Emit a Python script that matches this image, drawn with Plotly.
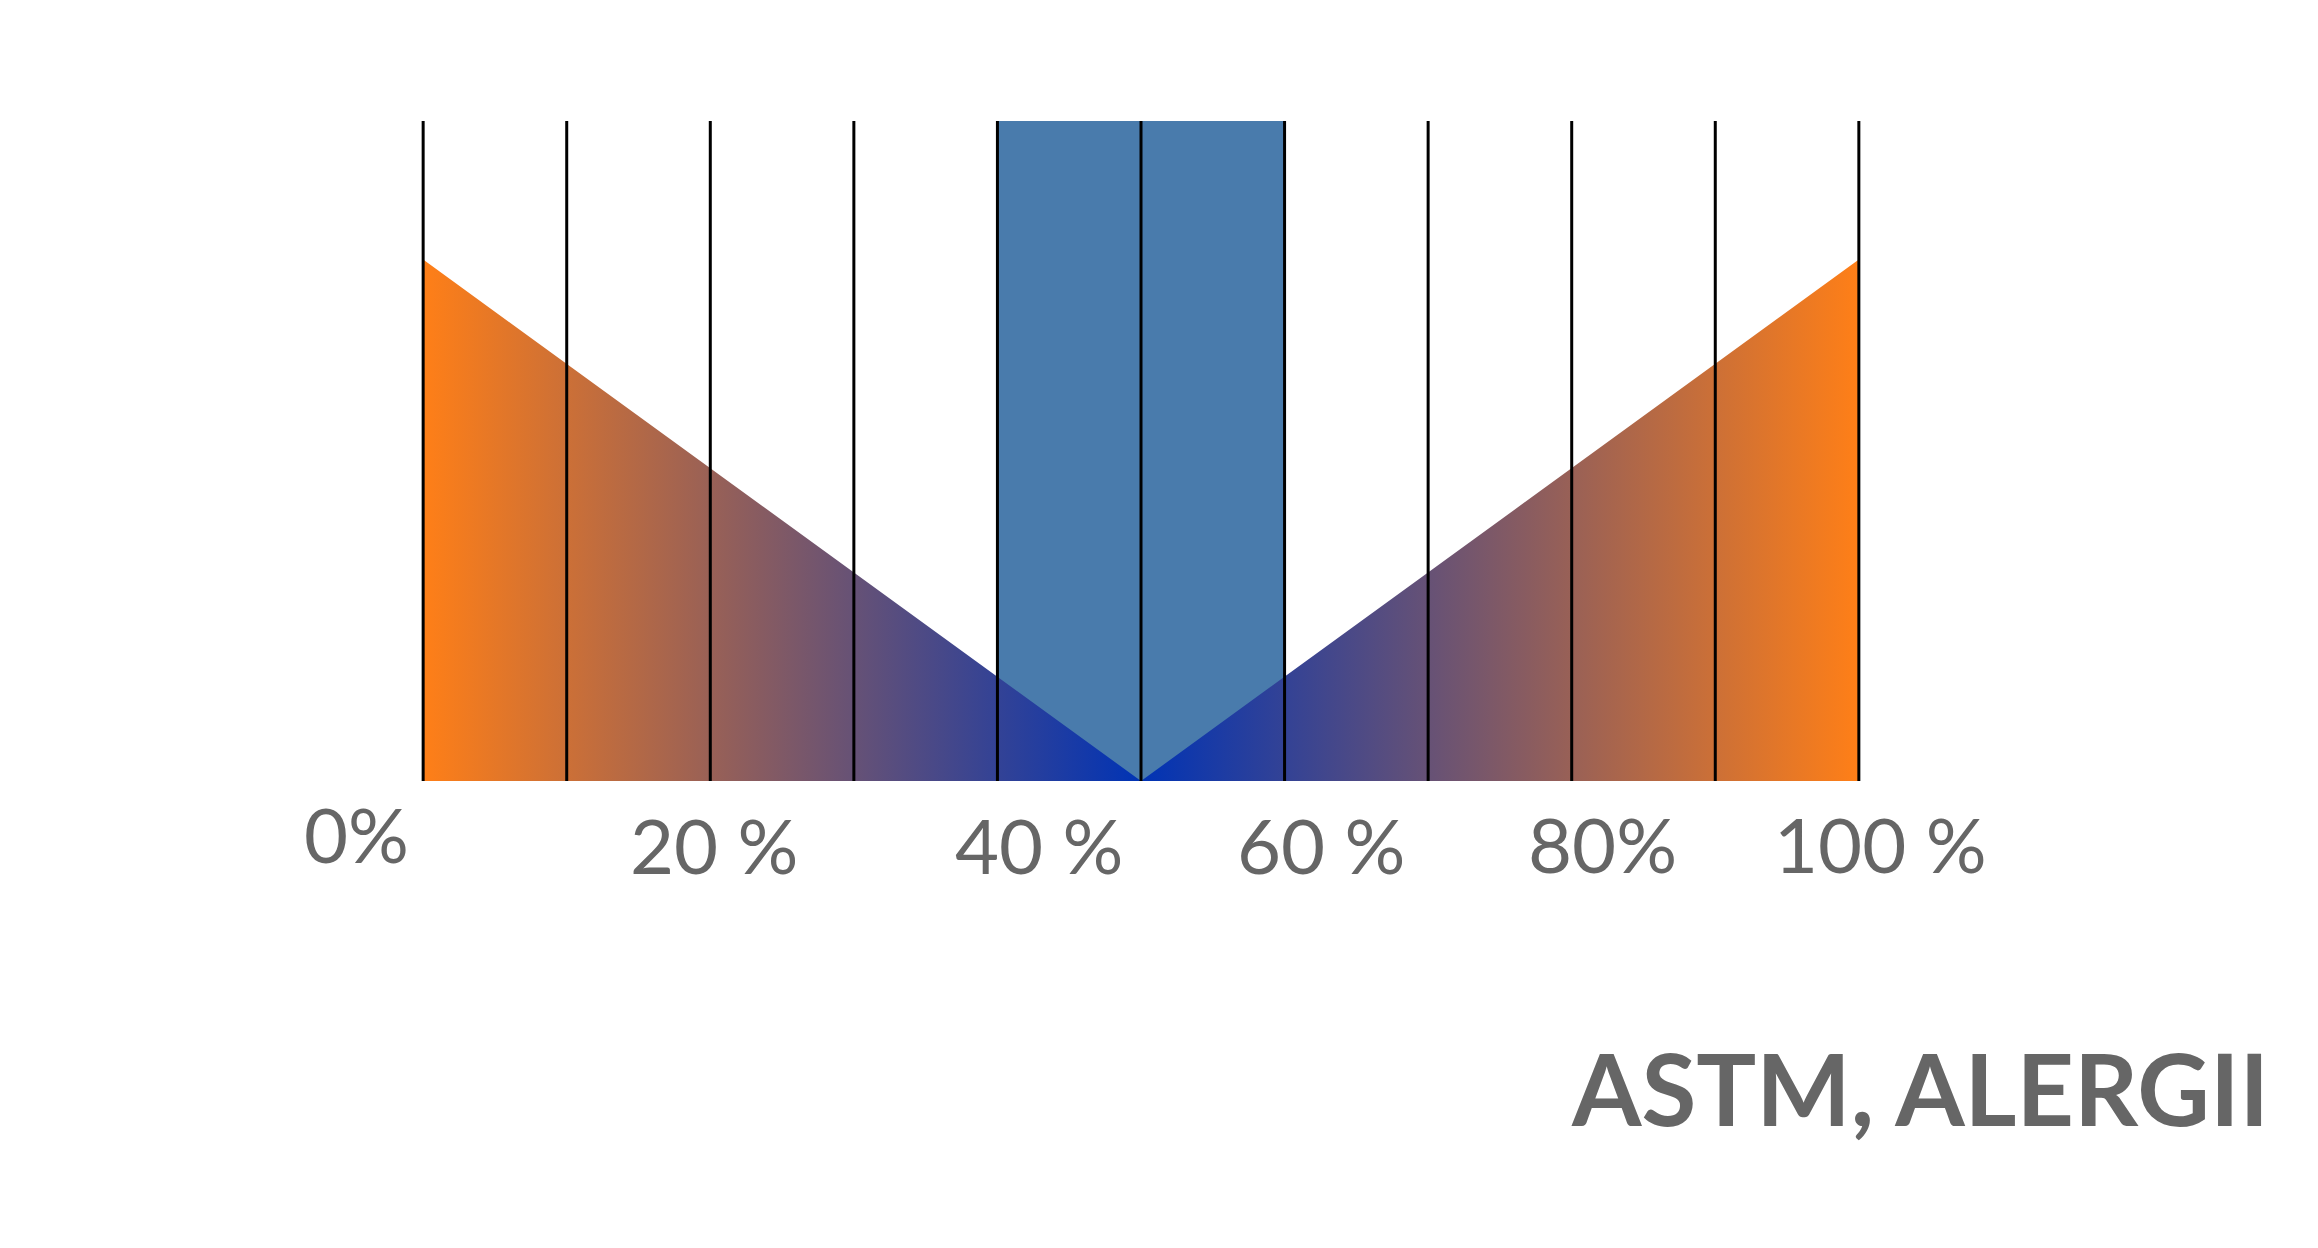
"""Allergy / asthma percentage scale chart."""

import plotly.graph_objects as go

# Data
grid_positions = [0, 10, 20, 30, 40, 50, 60, 70, 80, 90, 100]
v_x = [0, 50, 100]
v_y = [79, 0, 79]
band_center = [50]
band_width = [20]
band_height = [100]
tick_vals = [0, 20, 40, 60, 80, 100]
tick_text = ["0%", "20 %", "40 %", "60 %", "80%", "100 %"]
title_text = "ASTM, ALERGII"

# Label nudges (px), to mimic the hand-laid labels of the original
label_xshift = [-67, 4, 42, 37, 31, 22]
label_yshift = [-52, -63, -63, -63, -62, -62]

ORANGE = "#ff7f17"
BLUE = "#0033b5"
BAND = "#497bac"
GREY = "#666666"

fig = go.Figure()

# Blue band in the middle
fig.add_trace(go.Bar(
    x=band_center,
    y=band_height,
    width=band_width,
    marker={"color": BAND, "line": {"width": 0}},
    hoverinfo="skip",
    showlegend=False
))

# Gradient V shape
fig.add_trace(go.Scatter(
    x=v_x,
    y=v_y,
    mode="lines",
    line={"width": 0},
    fill="tozeroy",
    fillgradient={
        "type": "horizontal",
        "colorscale": [[0, ORANGE], [0.5, BLUE], [1, ORANGE]]
    },
    hoverinfo="skip",
    showlegend=False
))

# Vertical lines
line_x = []
line_y = []
for gx in grid_positions:
    line_x += [gx, gx, None]
    line_y += [0, 100, None]

fig.add_trace(go.Scatter(
    x=line_x,
    y=line_y,
    mode="lines",
    line={"width": 3, "color": "black"},
    hoverinfo="skip",
    showlegend=False
))

annotations = []
for val, txt, dx, dy in zip(tick_vals, tick_text, label_xshift, label_yshift):
    annotations.append({
        "x": val,
        "y": 0,
        "xref": "x",
        "yref": "y",
        "text": txt,
        "showarrow": False,
        "xanchor": "center",
        "yanchor": "middle",
        "xshift": dx,
        "yshift": dy,
        "font": {"family": "Lato", "size": 76, "color": GREY}
    })

annotations.append({
    "x": 1.2847,
    "y": -0.4636,
    "xref": "paper",
    "yref": "paper",
    "text": f"<b>{title_text}</b>",
    "showarrow": False,
    "xanchor": "right",
    "yanchor": "middle",
    "font": {"family": "Lato", "size": 100, "color": GREY}
})

fig.update_layout(
    width=2318,
    height=1248,
    margin={"l": 413, "r": 465, "t": 113, "b": 475},
    plot_bgcolor="white",
    paper_bgcolor="white",
    bargap=0,
    xaxis={"range": [-0.15, 100.15], "visible": False, "fixedrange": True},
    yaxis={"range": [0, 100], "visible": False, "fixedrange": True},
    annotations=annotations
)

fig.write_html("out.html", config={"displayModeBar": False})
